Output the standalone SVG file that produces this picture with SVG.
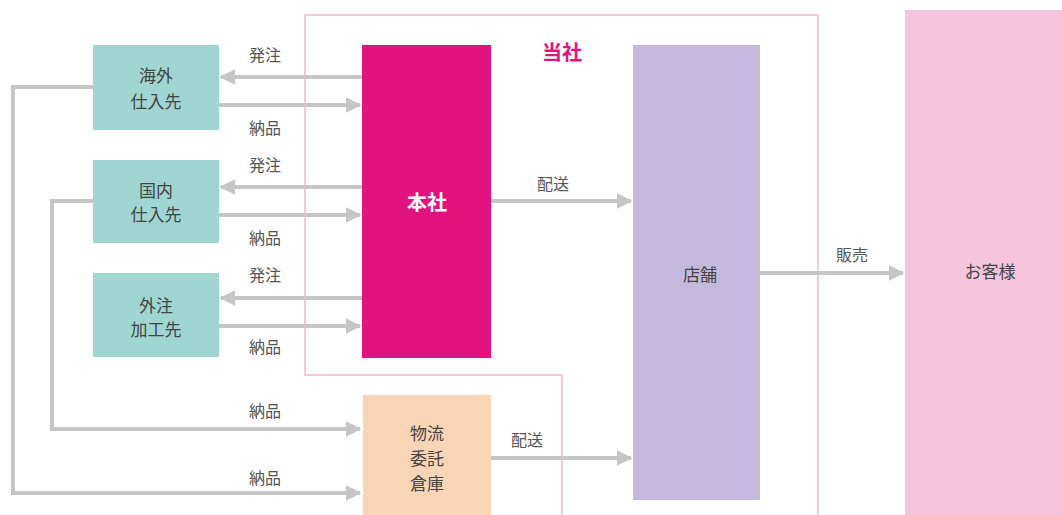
<svg xmlns="http://www.w3.org/2000/svg" width="1062" height="515" viewBox="0 0 1062 515">
<style>
text{font-family:"Noto Sans CJK JP","Noto Sans",sans-serif;font-size:17px;fill:#444;text-anchor:middle;dominant-baseline:central}
.sup{fill:#9fd6d2}
.ln{fill:none;stroke:#c6c6c6;stroke-width:4}
.lbl{font-size:16px;fill:#555}
</style>
<defs>
<marker id="ah" viewBox="0 0 10 10" refX="9" refY="5" markerWidth="4" markerHeight="4" orient="auto" markerUnits="strokeWidth">
<path d="M0,0 L10,5 L0,10 z" fill="#c6c6c6"/>
</marker>
</defs>
<rect width="1062" height="515" fill="#fff"/>
<g id="frame">
<path d="M305,15 H818 V520 H562 V375 H305 Z" fill="none" stroke="#f4c8d8" stroke-width="2"/>
<text x="562" y="51" style="font-size:20px;font-weight:bold;fill:#e4127f">当社</text>
</g>
<g id="connectors">
<line class="ln" x1="362" y1="77" x2="221" y2="77" marker-end="url(#ah)"/>
<line class="ln" x1="219" y1="105" x2="360" y2="105" marker-end="url(#ah)"/>
<line class="ln" x1="362" y1="187" x2="221" y2="187" marker-end="url(#ah)"/>
<line class="ln" x1="219" y1="215" x2="360" y2="215" marker-end="url(#ah)"/>
<line class="ln" x1="362" y1="298" x2="221" y2="298" marker-end="url(#ah)"/>
<line class="ln" x1="219" y1="326" x2="360" y2="326" marker-end="url(#ah)"/>
<polyline class="ln" points="93,201 52,201 52,429 360,429" marker-end="url(#ah)"/>
<polyline class="ln" points="93,87 13,87 13,493 360,493" marker-end="url(#ah)"/>
<line class="ln" x1="491" y1="201" x2="631" y2="201" marker-end="url(#ah)"/>
<line class="ln" x1="491" y1="458" x2="631" y2="458" marker-end="url(#ah)"/>
<line class="ln" x1="760" y1="273" x2="903" y2="273" marker-end="url(#ah)"/>
<text class="lbl" x="265" y="54">発注</text>
<text class="lbl" x="265" y="127">納品</text>
<text class="lbl" x="265" y="164">発注</text>
<text class="lbl" x="265" y="237">納品</text>
<text class="lbl" x="265" y="274">発注</text>
<text class="lbl" x="265" y="346">納品</text>
<text class="lbl" x="265" y="410">納品</text>
<text class="lbl" x="265" y="477">納品</text>
<text class="lbl" x="553" y="183">配送</text>
<text class="lbl" x="527" y="439">配送</text>
<text class="lbl" x="852" y="254">販売</text>
</g>
<g id="kaigai">
<rect class="sup" x="93" y="45" width="126" height="85"/>
<text x="156" y="74">海外</text>
<text x="156" y="100">仕入先</text>
</g>
<g id="kokunai">
<rect class="sup" x="93" y="160" width="126" height="83"/>
<text x="156" y="189">国内</text>
<text x="156" y="213">仕入先</text>
</g>
<g id="gaichu">
<rect class="sup" x="93" y="273" width="126" height="84"/>
<text x="156" y="304">外注</text>
<text x="156" y="328">加工先</text>
</g>
<g id="honsha">
<rect x="362" y="45" width="129" height="313" fill="#e2127f"/>
<text x="427" y="201" style="fill:#fff;font-weight:bold;font-size:20px">本社</text>
</g>
<g id="souko">
<rect x="363" y="395" width="128" height="125" fill="#f9d5b6"/>
<text x="427" y="432">物流</text>
<text x="427" y="457">委託</text>
<text x="427" y="482">倉庫</text>
</g>
<g id="tenpo">
<rect x="633" y="45" width="127" height="455" fill="#c4b9dd"/>
<text x="700" y="273">店舗</text>
</g>
<g id="kyaku">
<rect x="905" y="10" width="160" height="510" fill="#f4c5dc"/>
<text x="990" y="270">お客様</text>
</g>
</svg>
